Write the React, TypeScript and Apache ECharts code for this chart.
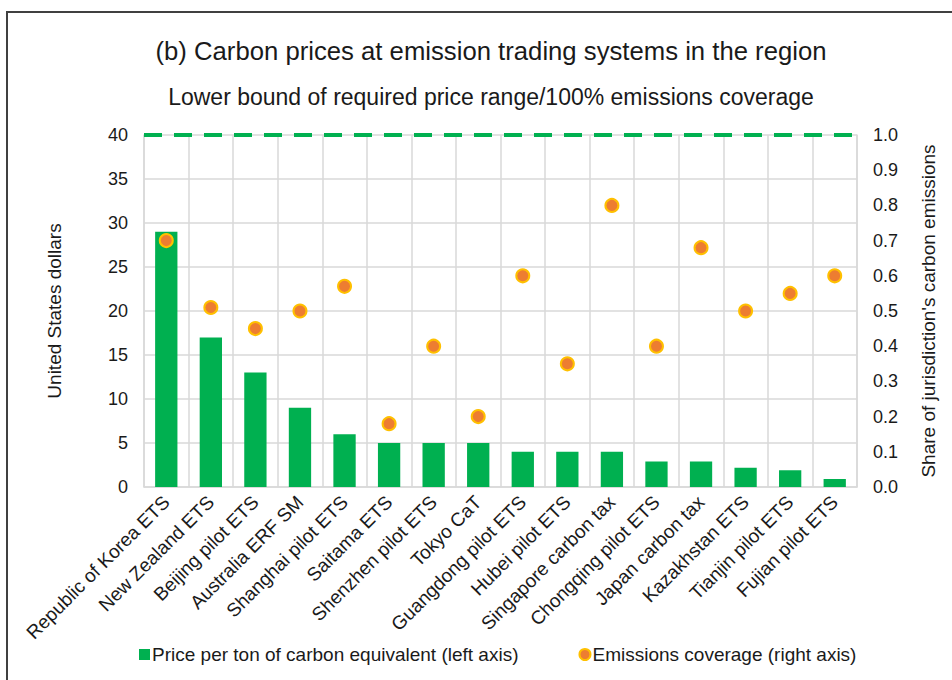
import React, { useEffect, useRef } from "react";
import * as echarts from "echarts";

const categories = [
  "Republic of Korea ETS",
  "New Zealand ETS",
  "Beijing pilot ETS",
  "Australia ERF SM",
  "Shanghai pilot ETS",
  "Saitama ETS",
  "Shenzhen pilot ETS",
  "Tokyo CaT",
  "Guangdong pilot ETS",
  "Hubei pilot ETS",
  "Singapore carbon tax",
  "Chongqing pilot ETS",
  "Japan carbon tax",
  "Kazakhstan ETS",
  "Tianjin pilot ETS",
  "Fujian pilot ETS",
];
const pricePerTon = [29, 17, 13, 9, 6, 5, 5, 5, 4, 4, 4, 2.9, 2.9, 2.2, 1.9, 0.9];
const emissionsCoverage = [0.7, 0.51, 0.45, 0.5, 0.57, 0.18, 0.4, 0.2, 0.6, 0.35, 0.8, 0.4, 0.68, 0.5, 0.55, 0.6];
const requiredPriceLowerBound = 40;
const leftTicks = { min: 0, max: 40, interval: 5 };
const rightTicks = { min: 0, max: 1, interval: 0.1 };

const FONT = "'Liberation Sans', Arial, sans-serif";
const GREEN = "#00b050";
const ORANGE = "#ed7d31";
const GOLD = "#ffc000";
const GRID = "#d9d9d9";
const TEXT = "#1a1a1a";

export default function App() {
  const ref = useRef<HTMLDivElement>(null);
  useEffect(() => {
    document.body.style.margin = "0";
    const chart = echarts.init(ref.current!, null, { renderer: "svg" });
    chart.setOption({
      animation: false,
      backgroundColor: "#ffffff",
      textStyle: { fontFamily: FONT },
      title: [
        {
          text: "(b) Carbon prices at emission trading systems in the region",
          left: 486,
          top: 33,
          textAlign: "center",
          textStyle: { fontSize: 25.7, fontWeight: "normal", color: TEXT, fontFamily: FONT },
        },
        {
          text: "Lower bound of required price range/100% emissions coverage",
          left: 486,
          top: 80,
          textAlign: "center",
          textStyle: { fontSize: 23, fontWeight: "normal", color: TEXT, fontFamily: FONT },
        },
      ],
      graphic: [
        {
          type: "polyline",
          shape: { points: [[7, 680], [7, 12], [952, 12]] },
          style: { stroke: "#404040", lineWidth: 2, fill: null },
          silent: true,
        },
      ],
      legend: {
        left: 134,
        top: 640,
        itemGap: 60,
        itemWidth: 11,
        itemHeight: 11,
        textStyle: { fontSize: 19, color: TEXT, fontFamily: FONT, padding: [0, 0, 0, -3] },
        data: [
          { name: "Price per ton of carbon equivalent (left axis)", icon: "rect" },
          { name: "Emissions coverage (right axis)", icon: "circle" },
        ],
      },
      grid: { left: 144, right: 95, top: 135, bottom: 193, containLabel: false },
      xAxis: {
        type: "category",
        data: categories,
        boundaryGap: true,
        axisLine: { show: true, lineStyle: { color: GRID, width: 1.5 } },
        axisTick: { show: false },
        splitLine: { show: true, lineStyle: { color: GRID, width: 1.5 } },
        axisLabel: {
          interval: 0,
          rotate: 45,
          fontSize: 19,
          color: TEXT,
          margin: 12,
          fontFamily: FONT,
        },
      },
      yAxis: [
        {
          type: "value",
          ...leftTicks,
          name: "United States dollars",
          nameLocation: "middle",
          nameGap: 80,
          nameTextStyle: { fontSize: 19, color: TEXT, fontFamily: FONT },
          axisLine: { show: true, lineStyle: { color: GRID, width: 1.5 } },
          axisTick: { show: false },
          splitLine: { show: true, lineStyle: { color: GRID, width: 1.5 } },
          axisLabel: { fontSize: 18, color: TEXT, margin: 16, fontFamily: FONT },
        },
        {
          type: "value",
          ...rightTicks,
          name: "Share of jurisdiction's carbon emissions",
          nameLocation: "middle",
          nameGap: 62,
          nameRotate: 90,
          nameTextStyle: { fontSize: 19, color: TEXT, fontFamily: FONT },
          axisLine: { show: true, lineStyle: { color: GRID, width: 1.5 } },
          axisTick: { show: false },
          splitLine: { show: false },
          axisLabel: {
            fontSize: 18,
            color: TEXT,
            margin: 16,
            fontFamily: FONT,
            formatter: (v: number) => v.toFixed(1),
          },
        },
      ],
      series: [
        {
          name: "Price per ton of carbon equivalent (left axis)",
          type: "bar",
          yAxisIndex: 0,
          data: pricePerTon,
          barWidth: "50%",
          itemStyle: { color: GREEN },
          markLine: {
            silent: true,
            symbol: "none",
            label: { show: false },
            lineStyle: { color: GREEN, width: 4, type: [18, 12], opacity: 1 },
            data: [{ yAxis: requiredPriceLowerBound }],
          },
          z: 2,
        },
        {
          name: "Emissions coverage (right axis)",
          type: "scatter",
          yAxisIndex: 1,
          data: emissionsCoverage,
          symbolSize: 13,
          itemStyle: { color: ORANGE, borderColor: GOLD, borderWidth: 2, opacity: 1 },
          z: 3,
        },
      ],
    });
    return () => chart.dispose();
  }, []);
  return <div ref={ref} style={{ width: 952, height: 680 }} />;
}
